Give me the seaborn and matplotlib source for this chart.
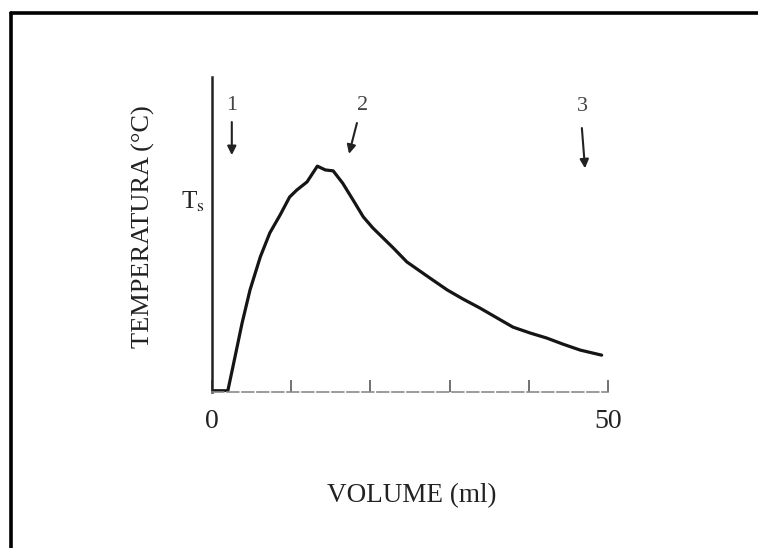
import matplotlib
matplotlib.use("Agg")
import matplotlib.pyplot as plt
from matplotlib.lines import Line2D
import seaborn as sns
import pandas as pd

# Titration curve: temperature (arbitrary scale, 0-100) versus added volume (ml)
volume = [0.0, 2.0, 2.9, 3.8, 4.8, 6.1, 7.3, 8.6, 9.8, 10.7, 12.0, 13.3,
          14.3, 15.3, 16.5, 17.8, 19.1, 20.3, 21.6, 22.9, 24.6, 27.5, 29.7,
          31.7, 33.8, 36.0, 38.0, 40.2, 42.3, 44.3, 46.5, 49.2]
temperature = [0.4, 0.4, 11.1, 21.9, 32.4, 42.9, 50.5, 56.2, 61.9, 64.1,
               66.7, 71.7, 70.5, 70.2, 66.3, 61.0, 55.6, 52.1, 48.9, 45.7,
               41.3, 36.2, 32.4, 29.5, 26.7, 23.5, 20.6, 18.7, 17.1, 15.2,
               13.3, 11.7]

x_ticks = [0, 10, 20, 30, 40, 50]
x_tick_labels = ["0", "", "", "", "", "50"]

# Event markers: label, label position, arrow tail, arrow head
marker_labels = ["1", "2", "3"]
marker_label_xy = [(2.5, 91.0), (19.0, 91.0), (46.8, 90.5)]
marker_tail_xy = [(2.5, 85.7), (18.3, 85.4), (46.7, 83.8)]
marker_head_xy = [(2.5, 75.2), (17.3, 75.6), (47.1, 71.0)]

sns.set_style("white")
plt.rcParams["font.family"] = ["Liberation Serif", "DejaVu Serif"]
plt.rcParams["mathtext.fontset"] = "stix"

df = pd.DataFrame({"volume": volume, "temperature": temperature})

fig = plt.figure(figsize=(7.58, 5.48), dpi=100)
ax = fig.add_axes([212 / 758, 1 - 392 / 548, 396 / 758, 315 / 548])

sns.lineplot(data=df, x="volume", y="temperature", ax=ax, color="#151515",
             linewidth=2.3, sort=False, solid_joinstyle="round",
             solid_capstyle="round")

ax.set_xlim(0, 50)
ax.set_ylim(0, 100)

for side in ("top", "right"):
    ax.spines[side].set_visible(False)
ax.spines["left"].set_color("#222222")
ax.spines["left"].set_linewidth(1.8)
ax.spines["bottom"].set_color("#8a8a8a")
ax.spines["bottom"].set_linewidth(1.2)
ax.spines["bottom"].set_linestyle((0, (7, 2)))

ax.set_xticks(x_ticks)
ax.set_xticklabels(x_tick_labels)
ax.set_yticks([])
ax.tick_params(axis="x", bottom=True, direction="in", length=9,
               width=1.3, color="#666666", pad=12, labelsize=20,
               labelcolor="#222222")

ax.set_xlabel("VOLUME (ml)", fontsize=19.5, color="#222222")
ax.xaxis.set_label_coords(0.505, -0.29)
ax.set_ylabel("TEMPERATURA (°C)", fontsize=19, color="#222222")
ax.yaxis.set_label_coords(-0.145, 0.525)

ax.text(-2.4, 60.5, r"T$_\mathrm{s}$", fontsize=18, color="#222222",
        ha="center", va="center", clip_on=False)

for lab, lxy, txy, hxy in zip(marker_labels, marker_label_xy,
                              marker_tail_xy, marker_head_xy):
    ax.text(lxy[0], lxy[1], lab, fontsize=16, color="#444444",
            ha="center", va="center")
    ax.annotate("", xy=hxy, xytext=txy,
                arrowprops=dict(arrowstyle="-|>", color="#222222", lw=1.5,
                                mutation_scale=13, shrinkA=0, shrinkB=0))

# Page frame around the figure (left and top edges)
fig.add_artist(Line2D([11 / 758, 11 / 758], [0, 1 - 13 / 548],
                      transform=fig.transFigure, color="black", linewidth=2.6))
fig.add_artist(Line2D([11 / 758, 1], [1 - 13 / 548, 1 - 13 / 548],
                      transform=fig.transFigure, color="black", linewidth=2.6))

fig.savefig("out.png", dpi=100, facecolor="white")
